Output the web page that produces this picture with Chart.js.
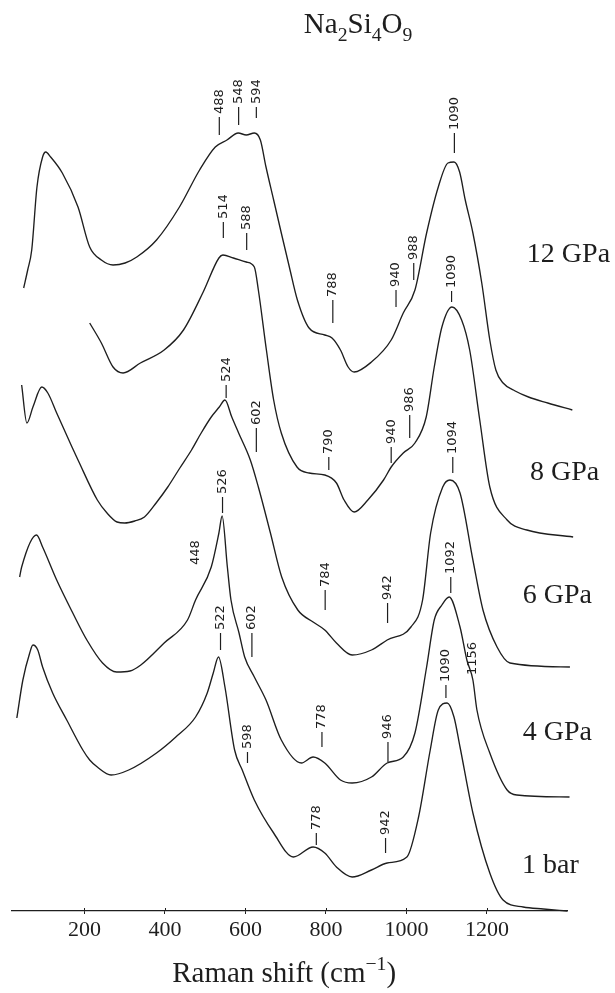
<!DOCTYPE html>
<html>
<head>
<meta charset="utf-8">
<title>Na2Si4O9 Raman spectra</title>
<script src="https://cdn.jsdelivr.net/npm/chart.js@4.4.1/dist/chart.umd.min.js"></script>
<style>
  html, body { margin: 0; padding: 0; background: #fff; }
  canvas { display: block; }
</style>
</head>
<body>
<canvas id="raman" width="615" height="993"></canvas>
<script>
// Raman shift (cm-1) and relative intensity for each pressure
const shift12 = [49, 59, 69, 82, 96, 104, 116, 145, 184, 213, 242, 271, 301, 330, 379, 436, 486, 525, 554, 582, 602, 622, 637, 651, 670, 689, 709, 729, 758, 797, 815, 836, 855, 870, 913, 962, 992, 1021, 1050, 1079, 1103, 1118, 1132, 1146, 1165, 1187, 1207, 1222, 1240, 1270, 1303, 1351, 1412];
const int12   = [122, 140, 160, 223, 253, 258, 253, 237, 203, 163, 150, 145, 147, 153, 170, 203, 240, 263, 270, 277, 275, 277, 270, 243, 210, 177, 143, 110, 82, 75, 72, 60, 43, 38, 48, 70, 97, 120, 177, 223, 247, 248, 238, 210, 177, 127, 70, 40, 27, 19, 13, 7, 0];

const shift8 = [213, 242, 271, 296, 339, 398, 446, 495, 534, 544, 570, 602, 622, 632, 652, 670, 689, 728, 758, 797, 826, 845, 870, 904, 943, 962, 992, 1021, 1049, 1069, 1088, 1113, 1137, 1157, 1182, 1207, 1250, 1299, 1414];
const int8   = [214, 194, 170, 164, 174, 187, 207, 245, 279, 282, 279, 275, 270, 247, 187, 137, 104, 70, 64, 62, 54, 37, 25, 37, 57, 70, 84, 94, 120, 170, 210, 230, 217, 187, 117, 50, 17, 7, 0];

const shift6 = [44, 57, 72, 94, 109, 131, 169, 184, 232, 256, 281, 300, 325, 349, 378, 407, 437, 466, 490, 515, 535, 549, 566, 583, 612, 632, 662, 690, 730, 768, 797, 826, 865, 913, 952, 1011, 1040, 1060, 1090, 1108, 1133, 1165, 1190, 1225, 1257, 1406];
const int6   = [282, 244, 260, 280, 274, 254, 220, 207, 167, 154, 145, 144, 146, 150, 164, 180, 199, 217, 234, 250, 260, 267, 250, 234, 207, 180, 134, 90, 57, 45, 37, 24, 12, 17, 27, 40, 67, 134, 180, 187, 174, 107, 57, 20, 4, 0];

const shift4 = [39, 44, 81, 96, 131, 171, 206, 245, 280, 313, 340, 398, 456, 476, 515, 534, 542, 555, 564, 584, 598, 622, 651, 689, 739, 768, 797, 836, 865, 913, 952, 992, 1021, 1050, 1069, 1088, 1106, 1133, 1150, 1165, 1175, 1207, 1250, 1274, 1405];
const int4   = [220, 230, 262, 250, 217, 184, 157, 134, 125, 126, 132, 154, 177, 197, 230, 264, 281, 230, 197, 164, 140, 120, 97, 57, 34, 40, 34, 17, 14, 20, 34, 40, 64, 130, 177, 192, 200, 170, 137, 117, 87, 44, 7, 2, 0];

const shift1 = [32, 47, 64, 72, 84, 96, 121, 156, 196, 213, 232, 266, 310, 379, 427, 476, 505, 520, 533, 549, 573, 592, 622, 670, 719, 768, 797, 826, 865, 913, 952, 1001, 1030, 1059, 1079, 1101, 1118, 1133, 1165, 1207, 1240, 1290, 1340, 1400];
const int1   = [193, 231, 258, 266, 261, 244, 218, 191, 161, 151, 144, 136, 141, 158, 174, 194, 218, 238, 254, 224, 161, 141, 111, 78, 54, 64, 58, 44, 34, 41, 48, 54, 94, 161, 201, 208, 194, 164, 98, 38, 11, 4, 2, 0];

// vertical stacking offset of each spectrum
const pressures   = ['12 GPa', '8 GPa', '6 GPa', '4 GPa', '1 bar'];
const stackOffset = [501, 374, 244, 114, 0];

// assigned bands: [label, shift, marker foot, marker head] (heights above own baseline)
const peaks12 = [['488', 535, 275, 293], ['548', 583, 285, 303], ['594', 627, 292, 303], ['1090', 1119, 257, 277], ['788', 817, 87, 110], ['940', 974, 103, 120], ['988', 1018, 130, 147]];
const peaks8  = [['514', 545, 299, 315], ['588', 603, 287, 304], ['1090', 1112, 235, 246], ['790', 807, 67, 80], ['940', 962, 74, 90], ['986', 1008, 99, 122]];
const peaks6  = [['524', 552, 269, 282], ['602', 627, 215, 239], ['784', 798, 57, 77], ['942', 953, 44, 64], ['1094', 1115, 194, 210]];
const peaks4  = [['526', 543, 284, 300], ['448', 477, 232, null], ['602', 616, 140, 164], ['778', 790, 50, 65], ['946', 954, 35, 55], ['1092', 1110, 204, 220], ['1156', 1164, 122, null]];
const peaks1  = [['522', 538, 261, 278], ['598', 605, 148, 159], ['778', 776, 66, 78], ['942', 948, 58, 73], ['1090', 1098, 213, 226]];

// where each pressure name sits: [shift, height above own baseline]
const tagAt = [[1299, 148], [1307, 57], [1289, 64], [1289, 57], [1287, 38]];

const tickValues = [200, 400, 600, 800, 1000, 1200];

const series = [
  { x: shift12, y: int12, peaks: peaks12 },
  { x: shift8,  y: int8,  peaks: peaks8 },
  { x: shift6,  y: int6,  peaks: peaks6 },
  { x: shift4,  y: int4,  peaks: peaks4 },
  { x: shift1,  y: int1,  peaks: peaks1 }
];

const ink = '#1e1e1e';
const serif = '"Liberation Serif", "Times New Roman", serif';

const datasets = series.map((s, i) => ({
  label: pressures[i],
  data: s.x.map((v, k) => ({ x: v, y: s.y[k] + stackOffset[i] })),
  borderColor: ink,
  borderWidth: 1.35,
  pointRadius: 0,
  fill: false,
  cubicInterpolationMode: 'monotone',
  clip: false
}));

// draws a run of text with sub/superscript pieces, returns end x
function richText(ctx, parts, x, base, size) {
  parts.forEach(([t, kind]) => {
    const s = kind ? size * 0.68 : size;
    const dy = kind === 'sub' ? size * 0.26 : kind === 'sup' ? -size * 0.4 : 0;
    ctx.font = s + 'px ' + serif;
    ctx.fillText(t, x, base + dy);
    x += ctx.measureText(t).width;
  });
  return x;
}
function richWidth(ctx, parts, size) {
  let w = 0;
  parts.forEach(([t, kind]) => {
    ctx.font = (kind ? size * 0.68 : size) + 'px ' + serif;
    w += ctx.measureText(t).width;
  });
  return w;
}

const annotate = {
  id: 'annotate',
  afterDraw(chart) {
    const { ctx, chartArea, scales: { x, y } } = chart;
    ctx.save();
    ctx.fillStyle = ink;
    ctx.strokeStyle = ink;

    // upward half of the axis tick marks
    ctx.lineWidth = 1;
    tickValues.forEach(v => {
      const px = Math.round(x.getPixelForValue(v)) + 0.5;
      ctx.beginPath();
      ctx.moveTo(px, chartArea.bottom);
      ctx.lineTo(px, chartArea.bottom - 3);
      ctx.stroke();
    });

    // band assignments, written vertically
    ctx.lineWidth = 1.2;
    series.forEach((s, i) => {
      const off = stackOffset[i];
      s.peaks.forEach(([txt, pos, lo, hi]) => {
        const px = x.getPixelForValue(pos);
        let start = y.getPixelForValue(off + lo);
        if (hi !== null) {
          const top = y.getPixelForValue(off + hi);
          ctx.beginPath();
          ctx.moveTo(px, start);
          ctx.lineTo(px, top);
          ctx.stroke();
          start = top - 3;
        }
        ctx.save();
        ctx.translate(px, start);
        ctx.rotate(-Math.PI / 2);
        ctx.font = '13px "DejaVu Sans", sans-serif';
        ctx.textAlign = 'left';
        ctx.textBaseline = 'middle';
        ctx.fillText(txt, 0, 0);
        ctx.restore();
      });

      // pressure name
      const [tx, ty] = tagAt[i];
      ctx.font = '28px ' + serif;
      ctx.textAlign = 'left';
      ctx.textBaseline = 'alphabetic';
      ctx.fillText(pressures[i], x.getPixelForValue(tx), y.getPixelForValue(off + ty));
    });

    // composition heading
    ctx.textAlign = 'left';
    ctx.textBaseline = 'alphabetic';
    richText(ctx, [['Na'], ['2', 'sub'], ['Si'], ['4', 'sub'], ['O'], ['9', 'sub']],
      x.getPixelForValue(745), chartArea.top - 28, 29);

    // axis title
    const titleParts = [['Raman shift (cm'], ['\u22121', 'sup'], [')']];
    const w = richWidth(ctx, titleParts, 29);
    richText(ctx, titleParts, x.getPixelForValue(696) - w / 2, chartArea.bottom + 71, 29);

    ctx.restore();
  }
};

new Chart(document.getElementById('raman'), {
  type: 'line',
  data: { datasets },
  options: {
    responsive: false,
    animation: false,
    devicePixelRatio: 1,
    layout: { padding: { top: 61, left: 12, right: 47.5, bottom: 42 } },
    plugins: { legend: { display: false }, tooltip: { enabled: false }, title: { display: false } },
    scales: {
      x: {
        type: 'linear',
        min: 20,
        max: 1400,
        afterBuildTicks(scale) { scale.ticks = tickValues.map(v => ({ value: v })); },
        afterFit(scale) { scale.height = 40; },
        ticks: {
          font: { family: serif, size: 22 },
          color: ink,
          padding: 3,
          maxRotation: 0,
          autoSkip: false,
          callback: v => String(v)
        },
        grid: { drawOnChartArea: false, drawTicks: true, tickLength: 3, color: ink, lineWidth: 1 },
        border: { display: true, color: ink, width: 1.2 }
      },
      y: { display: false, min: 0, max: 850 }
    }
  },
  plugins: [annotate]
});
</script>
</body>
</html>
